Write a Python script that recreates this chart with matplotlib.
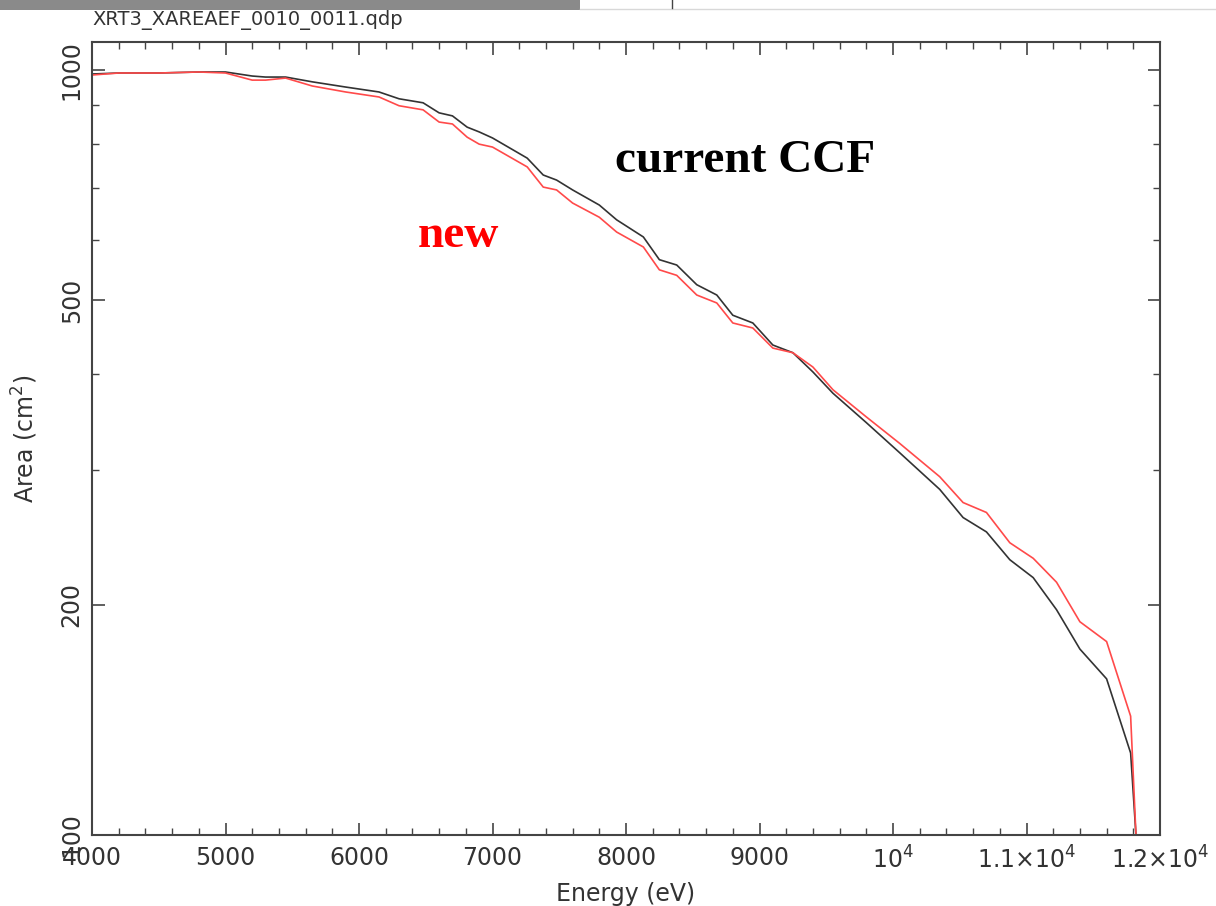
import matplotlib
matplotlib.use("Agg")
import matplotlib.pyplot as plt
from matplotlib.ticker import FixedLocator, LogLocator, MultipleLocator, NullFormatter
from matplotlib.lines import Line2D
from matplotlib.patches import Rectangle

# data (energy in eV, area in cm^2)
energy = [4000, 4200, 4500, 4800, 5000, 5200, 5300, 5450, 5650, 5900, 6150, 6300,
          6480, 6600, 6700, 6810, 6900, 7000, 7260, 7380, 7480, 7600, 7800, 7930,
          8130, 8250, 8380, 8530, 8680, 8800, 8950, 9100, 9250, 9400, 9550, 9800,
          10050, 10350, 10525, 10700, 10875, 11050, 11225, 11400, 11600, 11780, 11820]
area_ccf = [988, 991, 991, 994, 994, 982, 979, 979, 965, 950, 936, 917,
            906, 879, 871, 842, 830, 815, 767, 729, 718, 697, 666, 637,
            605, 565, 556, 524, 508, 478, 467, 437, 427, 403, 378, 346,
            316, 283, 260, 249, 229, 217, 197, 175, 160, 128, 100]
area_new = [985, 991, 991, 994, 991, 970, 970, 976, 953, 936, 922, 898,
            887, 855, 850, 817, 800, 793, 747, 703, 697, 670, 642, 614,
            587, 548, 539, 508, 496, 467, 460, 433, 427, 409, 382, 352,
            325, 294, 272, 264, 241, 230, 214, 190, 179, 143, 100]

xticks = [4000, 5000, 6000, 7000, 8000, 9000, 10000, 11000, 12000]
xticklabels = ["4000", "5000", "6000", "7000", "8000", "9000",
               r"$10^4$", r"$1.1{\times}10^4$", r"$1.2{\times}10^4$"]
yticks = [100, 200, 500, 1000]
yticklabels = ["100", "200", "500", "1000"]

W, H = 1216, 906
fig = plt.figure(figsize=(W / 100, H / 100), dpi=100)
fig.patch.set_facecolor("white")

# screenshot remnants along the top edge
fig.patches.append(Rectangle((0, 1 - 10 / H), 580 / W, 10 / H, transform=fig.transFigure,
                             facecolor="#8a8a8a", edgecolor="none"))
fig.lines.append(Line2D([580 / W, 1], [1 - 9 / H, 1 - 9 / H], transform=fig.transFigure,
                        color="#d8d8d8", lw=1))
fig.lines.append(Line2D([672 / W, 672 / W], [1, 1 - 8 / H], transform=fig.transFigure,
                        color="#444444", lw=1))

ax = fig.add_axes([92 / W, 1 - 835 / H, (1160 - 92) / W, (835 - 42) / H])

grey = "#444444"
ax.plot(energy, area_ccf, color="#333333", lw=1.2)
ax.plot(energy, area_new, color="#ff4a4a", lw=1.2)

ax.set_yscale("log")
ax.set_xlim(4000, 12000)
ax.set_ylim(100, 1000 * 10 ** (28 / 765))

ax.xaxis.set_major_locator(FixedLocator(xticks))
ax.set_xticklabels(xticklabels)
ax.xaxis.set_minor_locator(MultipleLocator(200))
ax.yaxis.set_major_locator(FixedLocator(yticks))
ax.set_yticklabels(yticklabels, rotation=90, va="center")
ax.yaxis.set_minor_locator(LogLocator(base=10, subs=range(1, 10)))
ax.yaxis.set_minor_formatter(NullFormatter())

ax.tick_params(which="both", direction="in", top=True, right=True, colors=grey,
               labelcolor="#333333", labelsize=17)
ax.tick_params(which="major", length=9, width=1.2)
ax.tick_params(which="minor", length=5, width=1.0)
ax.tick_params(axis="x", pad=8)
ax.tick_params(axis="y", pad=6)
for s in ax.spines.values():
    s.set_color(grey)
    s.set_linewidth(1.5)

ax.set_xlabel("Energy (eV)", fontsize=17, color="#333333", labelpad=6)
ax.set_ylabel(r"Area (cm$^2$)", fontsize=17, color="#333333", labelpad=14)

fig.text(92 / W, 1 - 20 / H, "XRT3_XAREAEF_0010_0011.qdp", fontsize=14,
         color="#333333", va="center", ha="left")

serif = ["Liberation Serif", "DejaVu Serif"]
fig.text(745 / W, 1 - 172 / H, "current CCF", fontsize=34, fontweight="bold",
         family=serif, color="black", ha="center", va="baseline")
fig.text(458 / W, 1 - 247 / H, "new", fontsize=34, fontweight="bold",
         family=serif, color="#ff0000", ha="center", va="baseline")

fig.savefig("out.png", dpi=100)
